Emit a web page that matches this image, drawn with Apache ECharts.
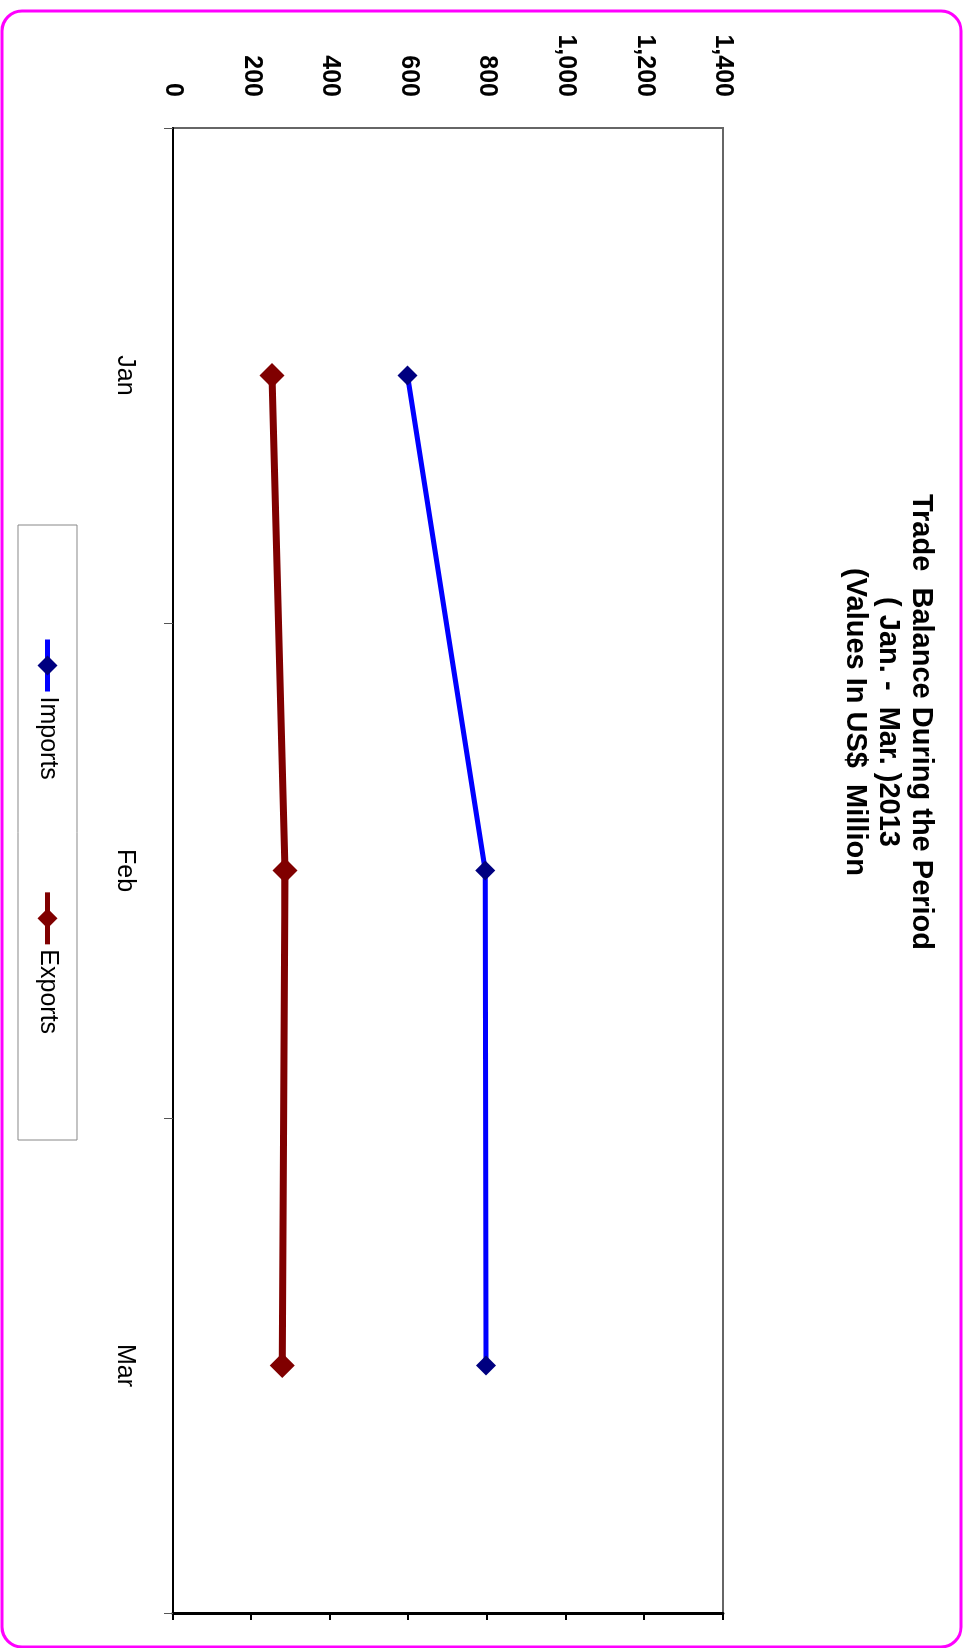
<!DOCTYPE html>
<html>
<head>
<meta charset="utf-8">
<script src="https://cdn.jsdelivr.net/npm/echarts@6/dist/echarts.min.js"></script>
<style>
html, body { margin: 0; padding: 0; background: #ffffff; width: 964px; height: 1648px; overflow: hidden; }
#chart { position: absolute; left: 0; top: 0; width: 1648px; height: 964px;
  transform-origin: 0 0; transform: translate(964px, 0) rotate(90deg); }
</style>
</head>
<body>
<div id="chart"></div>
<script>
// ---- data ----
const titleLines = ['Trade  Balance During the Period', '( Jan. -  Mar. )2013', '(Values In US$  Million'];
const categories = ['Jan', 'Feb', 'Mar'];
const seriesNames = ['Imports', 'Exports'];
const importsValues = [597, 795, 797];
const exportsValues = [252, 285, 278];
const valueTicks = [0, 200, 400, 600, 800, 1000, 1200, 1400];

// ---- chart ----
const FONT = '"Liberation Sans", Arial, sans-serif';
const chart = echarts.init(document.getElementById('chart'), null, { renderer: 'canvas' });

const valueMin = valueTicks[0];
const valueMax = valueTicks[valueTicks.length - 1];
const valueStep = valueTicks[1] - valueTicks[0];

chart.setOption({
  animation: false,
  backgroundColor: '#ffffff',
  grid: {
    left: 128, right: 35, top: 241, bottom: 173,
    containLabel: false, outerBoundsMode: 'none',
    show: true, borderColor: '#666666', borderWidth: 2, backgroundColor: 'transparent'
  },
  graphic: [
    { type: 'rect', z: -10, shape: { x: 11, y: 3, width: 1636, height: 959, r: 20 },
      style: { fill: 'none', stroke: '#FF00FF', lineWidth: 3 } },
    { type: 'rect', z: -5, shape: { x: 525, y: 887, width: 615, height: 59 },
      style: { fill: '#ffffff', stroke: '#888888', lineWidth: 1 } },
    { type: 'text', z: 10, x: 722, y: 26,
      style: { text: titleLines.join('\n'), align: 'center', verticalAlign: 'top',
        font: 'bold 29px ' + FONT, lineHeight: 33, fill: '#000000' } }
  ],
  legend: {
    data: seriesNames,
    orient: 'horizontal', left: 637, top: 904, padding: 0,
    itemWidth: 52, itemHeight: 25, itemGap: 110,
    lineStyle: { width: 5 },
    textStyle: { fontFamily: FONT, fontSize: 25, color: '#000000' },
    selectedMode: false
  },
  xAxis: {
    type: 'category', data: categories, boundaryGap: true, position: 'bottom',
    axisLine: { show: true, lineStyle: { color: '#000000', width: 2 } },
    axisTick: { show: true, inside: false, length: 9, alignWithLabel: false, lineStyle: { color: '#555555', width: 1 } },
    axisLabel: { show: true, margin: 36, fontFamily: FONT, fontSize: 25, color: '#000000' },
    splitLine: { show: false }
  },
  yAxis: [
    {
      type: 'value', position: 'left', min: valueMin, max: valueMax, interval: valueStep,
      axisLine: { show: false },
      axisTick: { show: false },
      axisLabel: { show: true, margin: 31, fontFamily: FONT, fontSize: 25, fontWeight: 'bold', color: '#000000',
        formatter: v => v.toLocaleString('en-US') },
      splitLine: { show: false }
    },
    {
      type: 'value', position: 'right', min: valueMin, max: valueMax, interval: valueStep,
      axisLine: { show: true, lineStyle: { color: '#000000', width: 3 } },
      axisTick: { show: true, inside: false, length: 7, lineStyle: { color: '#000000', width: 2 } },
      axisLabel: { show: false },
      splitLine: { show: false }
    }
  ],
  series: [
    { name: seriesNames[0], type: 'line', data: importsValues, yAxisIndex: 0,
      symbol: 'diamond', symbolSize: 20, showSymbol: true, z: 3,
      lineStyle: { color: '#0000FF', width: 5 }, itemStyle: { color: '#000080' } },
    { name: seriesNames[1], type: 'line', data: exportsValues, yAxisIndex: 0,
      symbol: 'diamond', symbolSize: 25, showSymbol: true, z: 2,
      lineStyle: { color: '#800000', width: 7 }, itemStyle: { color: '#800000' } }
  ]
});
</script>
</body>
</html>
